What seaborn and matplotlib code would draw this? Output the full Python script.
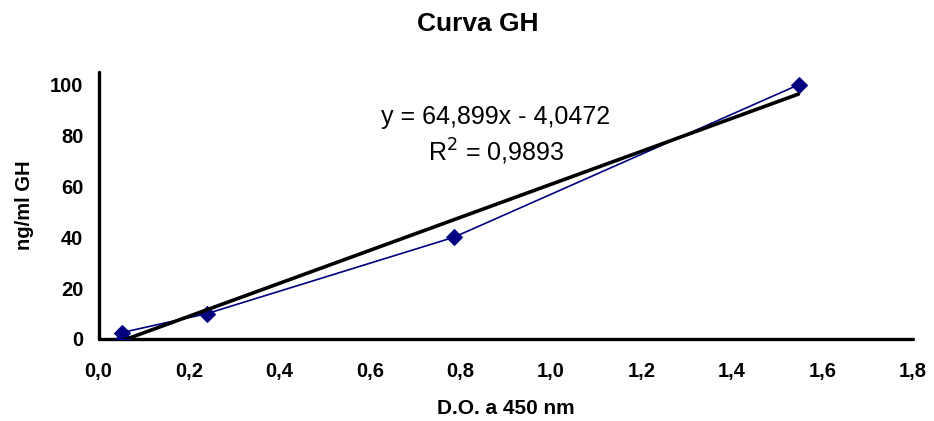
import matplotlib
matplotlib.use("Agg")
import matplotlib.pyplot as plt
import seaborn as sns
import numpy as np
import pandas as pd

# Data
od_values = [0.054, 0.051, 0.240, 0.785, 1.547]
gh_values = [0.0, 2.5, 10.0, 40.0, 100.0]
slope = 64.899
intercept = -4.0472
x_ticks = [0.0, 0.2, 0.4, 0.6, 0.8, 1.0, 1.2, 1.4, 1.6, 1.8]
y_ticks = [0, 20, 40, 60, 80, 100]

sns.set_theme(style="white")
plt.rcParams['font.family'] = ['Liberation Sans', 'DejaVu Sans']
plt.rcParams.update({"text.color": "black", "axes.labelcolor": "black",
                     "xtick.color": "black", "ytick.color": "black"})

fig = plt.figure(figsize=(9.34, 4.21), dpi=100)
ax = fig.add_axes([0.1055, 0.1948, 0.872, 0.634])

df = pd.DataFrame({"x": od_values, "y": gh_values})
sns.lineplot(data=df, x="x", y="y", sort=False, color="#000080", lw=1.2,
             marker="D", markersize=8.5, markeredgecolor="#000080",
             ax=ax, zorder=3)

tx = np.array([min(od_values), max(od_values)])
trend = pd.DataFrame({"x": tx, "y": slope * tx + intercept})
sns.lineplot(data=trend, x="x", y="y", color="black", lw=2.6, ax=ax, zorder=4)

ax.set_xlim(0, 1.8)
ax.set_ylim(0, 105)
ax.set_xticks(x_ticks)
ax.set_xticklabels([f"{v:.1f}".replace(".", ",") for v in x_ticks])
ax.set_yticks(y_ticks)
ax.set_yticklabels([str(v) for v in y_ticks])
for s in ["top", "right"]:
    ax.spines[s].set_visible(False)
for s in ["left", "bottom"]:
    ax.spines[s].set_linewidth(2.4)
    ax.spines[s].set_color("black")
    ax.spines[s].set_capstyle("round")
ax.tick_params(axis="both", direction="inout", length=7, width=2.4,
               color="black", labelsize=14.5)
ax.tick_params(axis="x", pad=13)
ax.tick_params(axis="y", pad=7.5)
for lbl in ax.get_xticklabels() + ax.get_yticklabels():
    lbl.set_fontweight("bold")
ax.set_xlabel("D.O. a 450 nm", fontsize=15, fontweight="bold", labelpad=13)
ax.set_ylabel("ng/ml GH", fontsize=14.5, fontweight="bold", labelpad=11.5)
ax.grid(False)

fig.text(478 / 934, 1 - 24 / 421, "Curva GH", ha="center", va="center",
         fontsize=19, fontweight="bold")
ax.text(0.878, 87.4, "y = 64,899x - 4,0472", ha="center", va="center",
        fontsize=18)
ax.text(0.878, 73.6, "R$^2$ = 0,9893", ha="center", va="center",
        fontsize=18)

fig.savefig("out.png", dpi=100)
